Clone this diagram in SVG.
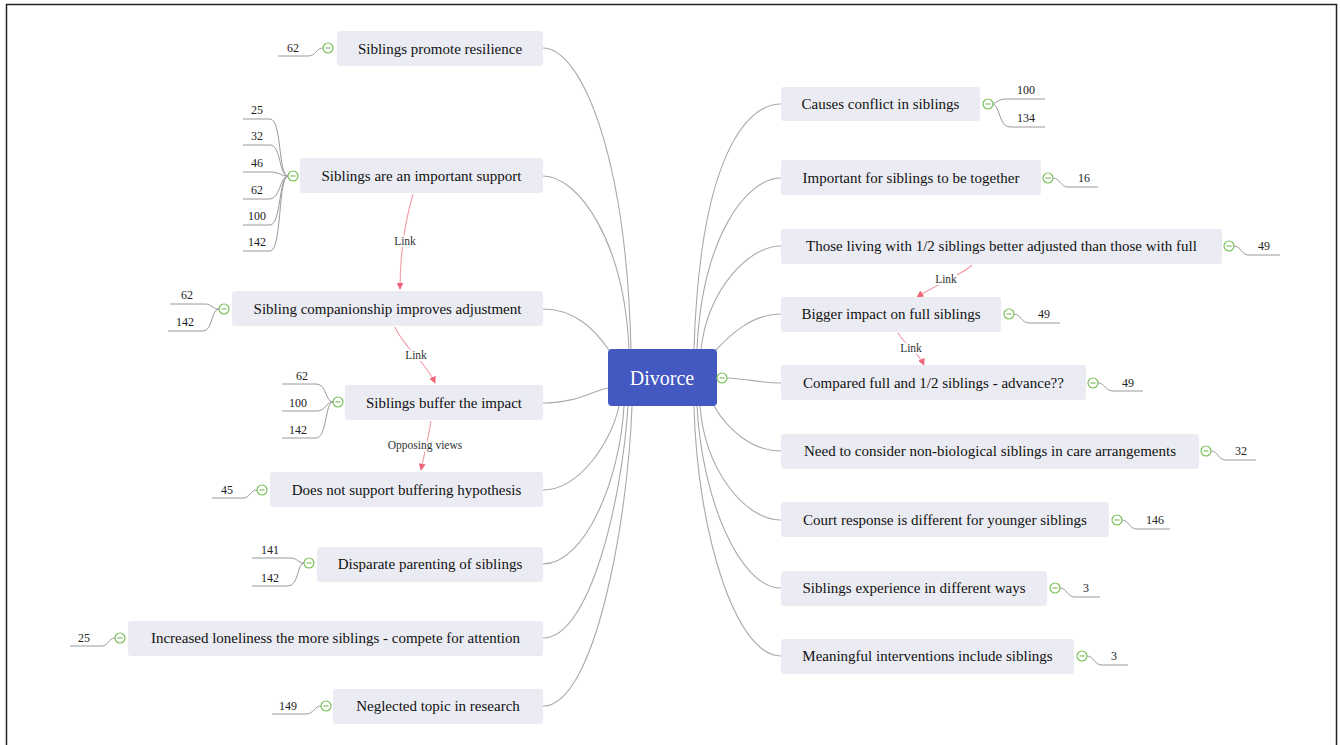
<svg xmlns="http://www.w3.org/2000/svg" width="1340" height="745" viewBox="0 0 1340 745">
<defs>
<style>
.bg{fill:#ffffff}
.frame{fill:none;stroke:#222;stroke-width:1.5}
.box{fill:#EBECF3}
.lbl{font-family:"Liberation Serif","Times New Roman",serif;font-size:15px;fill:#111;text-anchor:middle}
.num{font-family:"Liberation Serif","Times New Roman",serif;font-size:12px;fill:#222;text-anchor:middle}
.conn{fill:none;stroke:#A9A9A9;stroke-width:1.1}
.sub{fill:none;stroke:#9A9A9A;stroke-width:1}
.link{fill:none;stroke:#F29AA6;stroke-width:1.1}
.ltxt{font-family:"Liberation Serif","Times New Roman",serif;font-size:11.5px;fill:#333;text-anchor:middle;stroke:#fff;stroke-width:4;paint-order:stroke;stroke-linejoin:round}
.tg{fill:#fff;stroke:#7CC05A;stroke-width:1.2}
.tgm{stroke:#7CC05A;stroke-width:1.2}
.root{fill:#4358C0}
.rtxt{font-family:"Liberation Serif","Times New Roman",serif;font-size:20px;fill:#fff;text-anchor:middle}
</style>
<marker id="ah" viewBox="0 0 10 10" refX="9" refY="5" markerWidth="7" markerHeight="7" orient="auto-start-reverse" markerUnits="userSpaceOnUse">
<path d="M0,0 L10,5 L0,10 z" fill="#EE6677"/>
</marker>
<g id="toggle"><circle r="5" class="tg"/><line x1="-2.5" y1="0" x2="2.5" y2="0" class="tgm"/></g>
</defs>
<rect class="bg" width="1340" height="745"/>
<rect class="frame" x="6.5" y="4.5" width="1330" height="760"/>

<g id="connectors">
<path class="conn" d="M543,48 C580,48 626,150 631,349"/>
<path class="conn" d="M543,176 C578,176 624,240 629,349"/>
<path class="conn" d="M543,309 C575,309 595,330 609,350"/>
<path class="conn" d="M543,403 C575,403 590,392 608,388"/>
<path class="conn" d="M543,490 C580,490 612,440 619,406"/>
<path class="conn" d="M543,564 C585,564 620,480 624,406"/>
<path class="conn" d="M543,638 C590,638 622,500 628,406"/>
<path class="conn" d="M543,706 C595,706 628,520 632,406"/>
<path class="conn" d="M781,104 C745,104 700,160 694,349"/>
<path class="conn" d="M781,178 C745,178 702,240 697,349"/>
<path class="conn" d="M781,246 C748,246 708,290 701,349"/>
<path class="conn" d="M781,314 C752,314 730,335 716,350"/>
<path class="conn" d="M727,378 C750,379 760,383 781,383"/>
<path class="conn" d="M781,451 C752,451 728,430 714,406"/>
<path class="conn" d="M781,520 C745,520 705,470 700,406"/>
<path class="conn" d="M781,588 C740,588 702,500 697,406"/>
<path class="conn" d="M781,656 C735,656 697,530 694,406"/>

<path class="link" d="M413,194 C404,225 400,255 400,289" marker-end="url(#ah)"/>
<text class="ltxt" x="405" y="245">Link</text>
<path class="link" d="M395,327 C405,350 425,360 435,383" marker-end="url(#ah)"/>
<text class="ltxt" x="416" y="359">Link</text>
<path class="link" d="M431,421 C428,440 424,455 421,470" marker-end="url(#ah)"/>
<text class="ltxt" x="425" y="449">Opposing views</text>
<path class="link" d="M972,265 C962,275 935,285 917,297" marker-end="url(#ah)"/>
<text class="ltxt" x="946" y="283">Link</text>
<path class="link" d="M898,333 C905,345 918,352 924,365" marker-end="url(#ah)"/>
<text class="ltxt" x="911" y="352">Link</text>
</g>

<g id="n-root">
<rect class="root" x="608" y="349" width="109" height="57" rx="4"/>
<text class="rtxt" x="662" y="385">Divorce</text>
<use href="#toggle" x="722" y="378"/>
</g>

<g id="n-promote">
<rect class="box" x="337" y="31" width="206" height="35" rx="3"/>
<text class="lbl" x="440" y="53.5">Siblings promote resilience</text>
<use href="#toggle" x="328" y="48"/>
<path class="sub" d="M323,48 C316,48 316,56 308,56 L278,56"/>
<text class="num" x="293" y="52">62</text>
</g>

<g id="n-support">
<rect class="box" x="300" y="158" width="243" height="35" rx="3"/>
<text class="lbl" x="421.5" y="180.5">Siblings are an important support</text>
<use href="#toggle" x="293" y="176"/>
<path class="sub" d="M288,176 C278,176 282,119 270,119 L243,119"/>
<path class="sub" d="M288,176 C279,176 281,145 270,145 L243,145"/>
<path class="sub" d="M288,176 C280,176 280,172 270,172 L243,172"/>
<path class="sub" d="M288,176 C280,176 280,199 270,199 L243,199"/>
<path class="sub" d="M288,176 C279,176 281,225 270,225 L243,225"/>
<path class="sub" d="M288,176 C278,176 282,251 270,251 L243,251"/>
<text class="num" x="257" y="114">25</text>
<text class="num" x="257" y="140">32</text>
<text class="num" x="257" y="167">46</text>
<text class="num" x="257" y="194">62</text>
<text class="num" x="257" y="220">100</text>
<text class="num" x="257" y="246">142</text>
</g>

<g id="n-companionship">
<rect class="box" x="232" y="291" width="311" height="35" rx="3"/>
<text class="lbl" x="387.5" y="313.5">Sibling companionship improves adjustment</text>
<use href="#toggle" x="224" y="309"/>
<path class="sub" d="M219,309 C212,309 212,304 205,304 L170,304"/>
<path class="sub" d="M219,309 C211,309 213,331 203,331 L168,331"/>
<text class="num" x="187" y="299">62</text>
<text class="num" x="185" y="326">142</text>
</g>

<g id="n-buffer">
<rect class="box" x="345" y="385" width="198" height="35" rx="3"/>
<text class="lbl" x="444" y="407.5">Siblings buffer the impact</text>
<use href="#toggle" x="338" y="402"/>
<path class="sub" d="M333,402 C325,402 327,384 316,384 L282,384"/>
<path class="sub" d="M333,402 C325,402 327,411 316,411 L282,411"/>
<path class="sub" d="M333,402 C325,402 327,438 316,438 L282,438"/>
<text class="num" x="302" y="380">62</text>
<text class="num" x="298" y="407">100</text>
<text class="num" x="298" y="434">142</text>
</g>

<g id="n-notsupport">
<rect class="box" x="270" y="472" width="273" height="35" rx="3"/>
<text class="lbl" x="406.5" y="494.5">Does not support buffering hypothesis</text>
<use href="#toggle" x="262" y="490"/>
<path class="sub" d="M257,490 C250,490 250,498 243,498 L212,498"/>
<text class="num" x="227" y="494">45</text>
</g>

<g id="n-disparate">
<rect class="box" x="317" y="547" width="226" height="35" rx="3"/>
<text class="lbl" x="430" y="569">Disparate parenting of siblings</text>
<use href="#toggle" x="309" y="563"/>
<path class="sub" d="M304,563 C298,563 298,558 290,558 L252,558"/>
<path class="sub" d="M304,563 C297,563 299,586 288,586 L252,586"/>
<text class="num" x="270" y="554">141</text>
<text class="num" x="270" y="582">142</text>
</g>

<g id="n-loneliness">
<rect class="box" x="128" y="621" width="415" height="35" rx="3"/>
<text class="lbl" x="335.5" y="643">Increased loneliness the more siblings - compete for attention</text>
<use href="#toggle" x="120" y="638"/>
<path class="sub" d="M115,638 C108,638 109,646 101,646 L70,646"/>
<text class="num" x="84" y="642">25</text>
</g>

<g id="n-neglected">
<rect class="box" x="333" y="689" width="210" height="35" rx="3"/>
<text class="lbl" x="438" y="711">Neglected topic in research</text>
<use href="#toggle" x="326" y="706"/>
<path class="sub" d="M321,706 C314,706 314,714 306,714 L272,714"/>
<text class="num" x="288" y="710">149</text>
</g>

<g id="n-causes">
<rect class="box" x="781" y="87" width="199" height="34" rx="3"/>
<text class="lbl" x="880.5" y="109">Causes conflict in siblings</text>
<use href="#toggle" x="988" y="104"/>
<path class="sub" d="M993,104 C998,101 1000,99 1006,99 L1045,99"/>
<path class="sub" d="M993,104 C1000,106 999,127 1010,127 L1045,127"/>
<text class="num" x="1026" y="94">100</text>
<text class="num" x="1026" y="122">134</text>
</g>

<g id="n-together">
<rect class="box" x="781" y="160" width="260" height="35" rx="3"/>
<text class="lbl" x="911" y="182.5">Important for siblings to be together</text>
<use href="#toggle" x="1048" y="178"/>
<path class="sub" d="M1053,178 C1060,178 1060,187 1068,187 L1098,187"/>
<text class="num" x="1084" y="182">16</text>
</g>

<g id="n-halfsiblings">
<rect class="box" x="781" y="229" width="441" height="35" rx="3"/>
<text class="lbl" x="1001.5" y="251">Those living with 1/2 siblings better adjusted than those with full</text>
<use href="#toggle" x="1229" y="246"/>
<path class="sub" d="M1234,246 C1241,246 1241,255 1249,255 L1280,255"/>
<text class="num" x="1264" y="250">49</text>
</g>

<g id="n-bigger">
<rect class="box" x="781" y="297" width="220" height="35" rx="3"/>
<text class="lbl" x="891" y="319">Bigger impact on full siblings</text>
<use href="#toggle" x="1009" y="314"/>
<path class="sub" d="M1014,314 C1021,314 1021,323 1029,323 L1060,323"/>
<text class="num" x="1044" y="318">49</text>
</g>

<g id="n-compared">
<rect class="box" x="781" y="365" width="305" height="35" rx="3"/>
<text class="lbl" x="933.5" y="387.5">Compared full and 1/2 siblings - advance??</text>
<use href="#toggle" x="1093" y="383"/>
<path class="sub" d="M1098,383 C1105,383 1105,391 1113,391 L1143,391"/>
<text class="num" x="1128" y="387">49</text>
</g>

<g id="n-nonbio">
<rect class="box" x="781" y="434" width="418" height="35" rx="3"/>
<text class="lbl" x="990" y="456">Need to consider non-biological siblings in care arrangements</text>
<use href="#toggle" x="1206" y="451"/>
<path class="sub" d="M1211,451 C1218,451 1218,460 1226,460 L1256,460"/>
<text class="num" x="1241" y="455">32</text>
</g>

<g id="n-court">
<rect class="box" x="781" y="502" width="328" height="35" rx="3"/>
<text class="lbl" x="945" y="524.5">Court response is different for younger siblings</text>
<use href="#toggle" x="1117" y="520"/>
<path class="sub" d="M1122,520 C1129,520 1129,529 1137,529 L1170,529"/>
<text class="num" x="1155" y="524">146</text>
</g>

<g id="n-experience">
<rect class="box" x="781" y="571" width="266" height="35" rx="3"/>
<text class="lbl" x="914" y="593">Siblings experience in different ways</text>
<use href="#toggle" x="1055" y="588"/>
<path class="sub" d="M1060,588 C1067,588 1067,597 1075,597 L1100,597"/>
<text class="num" x="1086" y="592">3</text>
</g>

<g id="n-interventions">
<rect class="box" x="781" y="639" width="293" height="35" rx="3"/>
<text class="lbl" x="927.5" y="661">Meaningful interventions include siblings</text>
<use href="#toggle" x="1082" y="656"/>
<path class="sub" d="M1087,656 C1094,656 1094,665 1102,665 L1128,665"/>
<text class="num" x="1114" y="660">3</text>
</g>
</svg>
